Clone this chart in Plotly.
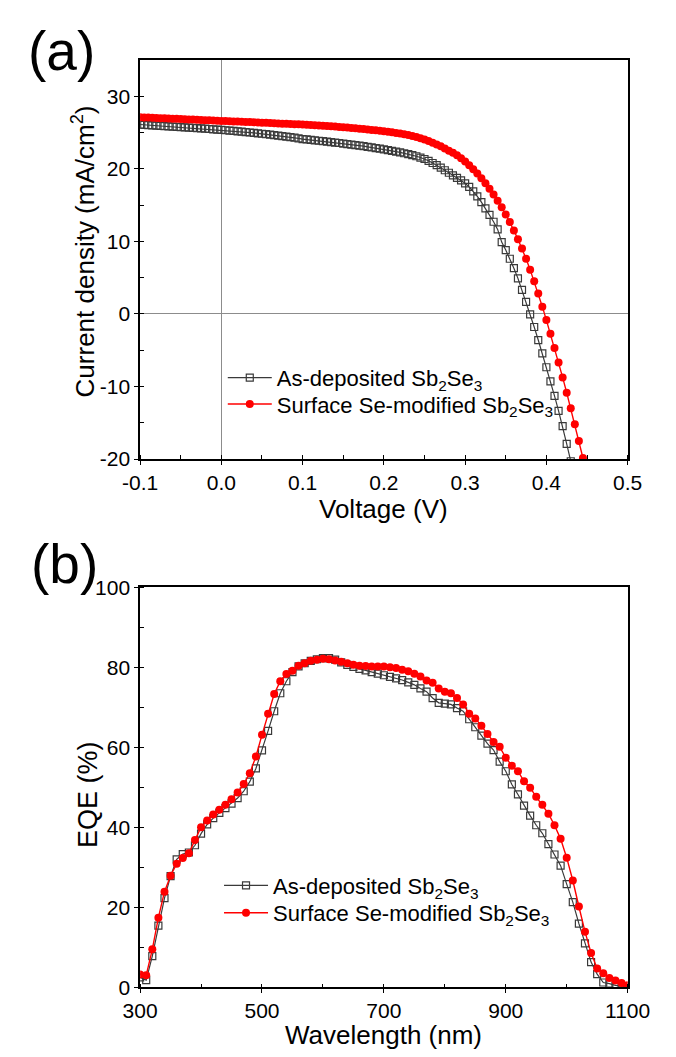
import plotly.graph_objects as go

# ---------------- data: panel (a) J-V ----------------
voltage_asdep = [
    -0.100, -0.095, -0.090, -0.085, -0.080, -0.075, -0.070, -0.065, -0.060, -0.055,
    -0.050, -0.045, -0.040, -0.035, -0.030, -0.025, -0.020, -0.015, -0.010, -0.005,
    0.000, 0.005, 0.010, 0.015, 0.020, 0.025, 0.030, 0.035, 0.040, 0.045,
    0.050, 0.055, 0.060, 0.065, 0.070, 0.075, 0.080, 0.085, 0.090, 0.095,
    0.100, 0.105, 0.110, 0.115, 0.120, 0.125, 0.130, 0.135, 0.140, 0.145,
    0.150, 0.155, 0.160, 0.165, 0.170, 0.175, 0.180, 0.185, 0.190, 0.195,
    0.200, 0.205, 0.210, 0.215, 0.220, 0.225, 0.230, 0.235, 0.240, 0.245,
    0.250, 0.255, 0.260, 0.265, 0.270, 0.275, 0.280, 0.285, 0.290, 0.295,
    0.300, 0.305, 0.310, 0.315, 0.320, 0.325, 0.330, 0.335, 0.340, 0.345,
    0.350, 0.355, 0.360, 0.365, 0.370, 0.375, 0.380, 0.385, 0.390, 0.395,
    0.400, 0.405, 0.410, 0.415, 0.420, 0.425, 0.430]
current_asdep = [
    26.10, 26.06, 26.02, 25.99, 25.95, 25.92, 25.88, 25.85, 25.81, 25.78,
    25.74, 25.70, 25.67, 25.63, 25.59, 25.56, 25.52, 25.48, 25.44, 25.40,
    25.36, 25.31, 25.26, 25.21, 25.16, 25.11, 25.06, 25.00, 24.95, 24.89,
    24.83, 24.77, 24.71, 24.64, 24.57, 24.50, 24.43, 24.36, 24.28, 24.20,
    24.10, 24.04, 23.98, 23.92, 23.86, 23.80, 23.74, 23.68, 23.61, 23.55,
    23.48, 23.41, 23.34, 23.26, 23.19, 23.11, 23.03, 22.95, 22.86, 22.77,
    22.68, 22.58, 22.48, 22.37, 22.26, 22.14, 22.01, 21.88, 21.73, 21.55,
    21.35, 21.10, 20.80, 20.50, 20.15, 19.80, 19.45, 19.10, 18.75, 18.40,
    18.00, 17.50, 16.90, 16.20, 15.40, 14.55, 13.65, 12.70, 11.65, 9.90,
    8.80, 7.60, 6.30, 4.90, 3.30, 1.65, -0.05, -1.80, -3.60, -5.45,
    -7.35, -9.30, -11.30, -13.35, -15.45, -17.90, -20.30]

voltage_semod = [
    -0.100, -0.095, -0.090, -0.085, -0.080, -0.075, -0.070, -0.065, -0.060, -0.055,
    -0.050, -0.045, -0.040, -0.035, -0.030, -0.025, -0.020, -0.015, -0.010, -0.005,
    0.000, 0.005, 0.010, 0.015, 0.020, 0.025, 0.030, 0.035, 0.040, 0.045,
    0.050, 0.055, 0.060, 0.065, 0.070, 0.075, 0.080, 0.085, 0.090, 0.095,
    0.100, 0.105, 0.110, 0.115, 0.120, 0.125, 0.130, 0.135, 0.140, 0.145,
    0.150, 0.155, 0.160, 0.165, 0.170, 0.175, 0.180, 0.185, 0.190, 0.195,
    0.200, 0.205, 0.210, 0.215, 0.220, 0.225, 0.230, 0.235, 0.240, 0.245,
    0.250, 0.255, 0.260, 0.265, 0.270, 0.275, 0.280, 0.285, 0.290, 0.295,
    0.300, 0.305, 0.310, 0.315, 0.320, 0.325, 0.330, 0.335, 0.340, 0.345,
    0.350, 0.355, 0.360, 0.365, 0.370, 0.375, 0.380, 0.385, 0.390, 0.395,
    0.400, 0.405, 0.410, 0.415, 0.420, 0.425, 0.430, 0.435, 0.440, 0.445, 0.450]
current_semod = [
    27.10, 27.08, 27.05, 27.03, 27.00, 26.98, 26.95, 26.93, 26.90, 26.88,
    26.85, 26.83, 26.80, 26.78, 26.75, 26.73, 26.70, 26.68, 26.65, 26.63,
    26.60, 26.58, 26.55, 26.53, 26.50, 26.48, 26.45, 26.43, 26.40, 26.38,
    26.35, 26.33, 26.30, 26.28, 26.25, 26.22, 26.19, 26.16, 26.13, 26.12,
    26.10, 26.07, 26.04, 26.00, 25.97, 25.93, 25.89, 25.85, 25.81, 25.77,
    25.73, 25.68, 25.63, 25.58, 25.53, 25.48, 25.42, 25.36, 25.30, 25.24,
    25.17, 25.10, 25.02, 24.94, 24.85, 24.75, 24.64, 24.52, 24.38, 24.22,
    24.03, 23.82, 23.60, 23.35, 23.10, 22.80, 22.50, 22.20, 21.85, 21.45,
    21.00, 20.50, 19.95, 19.35, 18.70, 18.00, 17.25, 16.45, 15.60, 14.70,
    13.70, 12.65, 11.50, 10.30, 9.00, 7.60, 6.10, 4.50, 2.80, 1.00,
    -0.85, -2.75, -4.70, -6.70, -8.75, -10.85, -13.00, -15.20, -17.50, -19.85, -22.20]

# ---------------- data: panel (b) EQE ----------------
wavelength = [
    300, 310, 320, 330, 340, 350, 360, 370, 380, 390,
    400, 410, 420, 430, 440, 450, 460, 470, 480, 490,
    500, 510, 520, 530, 540, 550, 560, 570, 580, 590,
    600, 610, 620, 630, 640, 650, 660, 670, 680, 690,
    700, 710, 720, 730, 740, 750, 760, 770, 780, 790,
    800, 810, 820, 830, 840, 850, 860, 870, 880, 890,
    900, 910, 920, 930, 940, 950, 960, 970, 980, 990,
    1000, 1010, 1020, 1030, 1040, 1050, 1060, 1070, 1080, 1090, 1100]
eqe_asdep = [
    2.5, 1.8, 7.8, 15.4, 22.3, 27.8, 32.0, 33.3, 33.7, 35.5,
    38.4, 40.7, 42.3, 43.6, 44.8, 45.9, 47.3, 49.0, 51.4, 54.7,
    59.2, 64.1, 69.0, 73.5, 76.5, 78.8, 80.2, 81.0, 81.6, 82.0,
    82.3, 82.3, 81.9, 81.2, 80.6, 80.1, 79.6, 79.2, 78.8, 78.4,
    78.0, 77.6, 77.2, 76.8, 76.2, 75.6, 74.7, 73.9, 72.3, 71.1,
    70.9, 70.7, 69.8, 69.0, 67.0, 65.0, 62.9, 60.9, 59.3, 56.4,
    54.0, 50.7, 48.2, 45.4, 42.9, 40.5, 38.5, 35.8, 33.2, 30.4,
    25.8, 21.3, 15.9, 11.0, 6.3, 3.3, 1.2, 0.9, 0.5, 0.3, 0.2]
eqe_semod = [
    3.2, 3.0, 9.5, 17.4, 23.9, 27.9, 30.9, 32.3, 33.5, 36.8,
    40.0, 41.7, 43.2, 44.4, 45.6, 47.0, 48.7, 50.8, 53.5, 57.7,
    63.1, 68.4, 73.3, 76.5, 78.3, 79.1, 80.4, 81.0, 81.6, 81.9,
    82.1, 82.0, 81.7, 81.4, 81.0, 80.6, 80.4, 80.3, 80.2, 80.2,
    80.2, 80.0, 79.8, 79.4, 79.0, 78.4, 77.7, 76.7, 76.1, 74.7,
    73.9, 73.5, 72.3, 70.7, 68.4, 67.2, 65.4, 63.3, 61.3, 60.1,
    57.4, 55.4, 54.0, 51.5, 49.9, 47.6, 45.6, 43.4, 40.5, 37.1,
    32.4, 26.7, 20.2, 13.9, 8.6, 4.7, 3.5, 2.3, 1.7, 1.1, 0.5]

# ---------------- labels / ticks ----------------
series_names = ["As-deposited Sb<sub>2</sub>Se<sub>3</sub>",
                "Surface Se-modified Sb<sub>2</sub>Se<sub>3</sub>"]
jv_xticks = [-0.1, 0.0, 0.1, 0.2, 0.3, 0.4, 0.5]
jv_xticktext = ["-0.1", "0.0", "0.1", "0.2", "0.3", "0.4", "0.5"]
jv_yticks = [-20, -10, 0, 10, 20, 30]
jv_yticktext = ["-20", "-10", "0", "10", "20", "30"]
eqe_xticks = [300, 500, 700, 900, 1100]
eqe_yticks = [0, 20, 40, 60, 80, 100]

FONT = "Arial, Liberation Sans, sans-serif"
W, H = 676, 1057
BLACK = "#3a3a3a"
RED = "#ff0000"

fig = go.Figure()

sq_style = dict(line=dict(color=BLACK, width=1.2),
                marker=dict(symbol="square-open", size=7, color=BLACK, line=dict(width=1.2)))
ci_style = dict(line=dict(color=RED, width=1.4),
                marker=dict(symbol="circle", size=8, color=RED))

# panel (a)
fig.add_trace(go.Scatter(x=voltage_asdep, y=current_asdep, mode="lines+markers",
                         name=series_names[0], xaxis="x", yaxis="y", legend="legend",
                         **sq_style))
fig.add_trace(go.Scatter(x=voltage_semod, y=current_semod, mode="lines+markers",
                         name=series_names[1], xaxis="x", yaxis="y", legend="legend3",
                         **ci_style))
# panel (b)
fig.add_trace(go.Scatter(x=wavelength, y=eqe_asdep, mode="lines+markers",
                         name=series_names[0], xaxis="x2", yaxis="y2", legend="legend2",
                         **sq_style))
fig.add_trace(go.Scatter(x=wavelength, y=eqe_semod, mode="lines+markers",
                         name=series_names[1], xaxis="x2", yaxis="y2", legend="legend4",
                         **ci_style))

xdom = [130 / W, 649 / W]
ydom_a = [1 - 457 / H, 1 - 49 / H]
ydom_b = [1 - 997 / H, 1 - 588 / H]

axis_common = dict(
    showline=True, linecolor="black", linewidth=1.5, mirror=True,
    showgrid=False, ticks="outside", ticklen=4, tickwidth=1.2, tickcolor="black",
    tickfont=dict(family=FONT, size=21, color="black"),
)


def leg(xpx, ypx):
    return dict(x=xpx / W, y=1 - ypx / H, xanchor="left", yanchor="middle",
                bgcolor="rgba(0,0,0,0)", borderwidth=0, itemwidth=44,
                font=dict(family=FONT, size=22, color="black"))


fig.update_layout(
    width=W, height=H, autosize=False,
    margin=dict(l=0, r=0, t=0, b=0),
    paper_bgcolor="white", plot_bgcolor="white",
    font=dict(family=FONT, color="black"),
    xaxis=dict(domain=xdom, anchor="y", range=[-0.1, 0.5],
               tickvals=jv_xticks, ticktext=jv_xticktext,
               zeroline=True, zerolinecolor="#8c8c8c", zerolinewidth=1,
               minor=dict(ticks="inside", ticklen=4, dtick=0.05, tick0=-0.1,
                          tickcolor="black", tickwidth=1),
               **axis_common),
    yaxis=dict(domain=ydom_a, anchor="x", range=[-20, 35],
               tickvals=jv_yticks, ticktext=jv_yticktext,
               zeroline=True, zerolinecolor="#8c8c8c", zerolinewidth=1,
               minor=dict(ticks="inside", ticklen=4, dtick=5, tick0=0,
                          tickcolor="black", tickwidth=1),
               **axis_common),
    xaxis2=dict(domain=xdom, anchor="y2", range=[300, 1100],
                tickvals=eqe_xticks, zeroline=False,
                minor=dict(ticks="inside", ticklen=4, dtick=100, tick0=300,
                           tickcolor="black", tickwidth=1),
                **axis_common),
    yaxis2=dict(domain=ydom_b, anchor="x2", range=[0, 100],
                tickvals=eqe_yticks, zeroline=False,
                minor=dict(ticks="inside", ticklen=4, dtick=10, tick0=0,
                           tickcolor="black", tickwidth=1),
                **axis_common),
    legend=leg(218, 374),
    legend3=leg(218, 401),
    legend2=leg(214, 893),
    legend4=leg(214, 921),
    showlegend=True,
)

ann = [
    dict(text="(a)", x=46 / W, y=1 - 40 / H, font=dict(size=55)),
    dict(text="(b)", x=50 / W, y=1 - 564 / H, font=dict(size=55)),
    dict(text="Current density (mA/cm<sup>2</sup>)", x=70 / W, y=1 - 245 / H,
         textangle=-90, font=dict(size=26)),
    dict(text="Voltage (V)", x=389.5 / W, y=1 - 508 / H, font=dict(size=26)),
    dict(text="EQE (%)", x=74 / W, y=1 - 800 / H, textangle=-90, font=dict(size=27)),
    dict(text="Wavelength (nm)", x=389.5 / W, y=1 - 1046 / H, font=dict(size=26)),
]
for a in ann:
    a["font"].update(family=FONT, color="black")
    fig.add_annotation(xref="paper", yref="paper", xanchor="center", yanchor="middle",
                       showarrow=False, **a)

fig.write_html("out.html")
